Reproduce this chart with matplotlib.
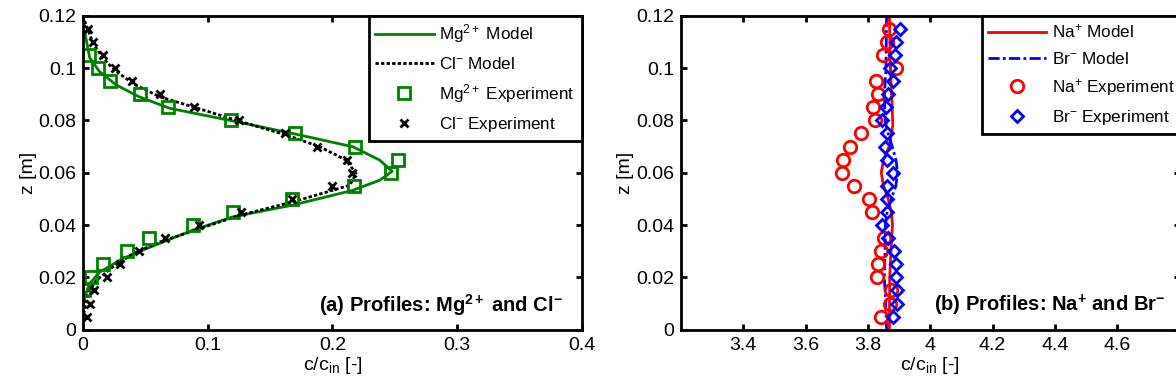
import matplotlib
matplotlib.use("Agg")
import matplotlib.pyplot as plt

plt.rcParams['font.family'] = ['Liberation Sans', 'DejaVu Sans']
plt.rcParams['mathtext.fontset'] = 'custom'
plt.rcParams['mathtext.rm'] = 'Liberation Sans'
plt.rcParams['mathtext.it'] = 'Liberation Sans'
plt.rcParams['mathtext.bf'] = 'Liberation Sans:bold'
plt.rcParams['mathtext.default'] = 'regular'

# ---- (a) Mg2+ / Cl- ----
mg_exp_z = [0.105, 0.10, 0.095, 0.09, 0.085, 0.08, 0.075, 0.07, 0.065, 0.06,
            0.055, 0.05, 0.045, 0.04, 0.035, 0.03, 0.025, 0.02, 0.015]
mg_exp_c = [0.005, 0.012, 0.022, 0.046, 0.068, 0.119, 0.170, 0.218, 0.253, 0.247,
            0.217, 0.168, 0.120, 0.088, 0.053, 0.035, 0.016, 0.006, 0.001]

cl_exp_z = [0.115, 0.11, 0.105, 0.10, 0.095, 0.09, 0.085, 0.08, 0.075, 0.07, 0.065, 0.06,
            0.055, 0.05, 0.045, 0.04, 0.035, 0.03, 0.025, 0.02, 0.015, 0.01, 0.005]
cl_exp_c = [0.004, 0.008, 0.016, 0.026, 0.039, 0.062, 0.089, 0.125, 0.162, 0.188, 0.212, 0.216,
            0.200, 0.168, 0.127, 0.093, 0.066, 0.045, 0.030, 0.019, 0.009, 0.0055, 0.003]

mg_mod_z = [0.114, 0.104, 0.0986, 0.0935, 0.089, 0.0846, 0.080, 0.075, 0.0699, 0.0648,
            0.0605, 0.0571, 0.0532, 0.0476, 0.0431, 0.038, 0.031, 0.0272, 0.022, 0.0176,
            0.0125, 0.008]
mg_mod_c = [0.0013, 0.0053, 0.0133, 0.0267, 0.045, 0.0695, 0.1176, 0.168, 0.2165, 0.238,
            0.248, 0.238, 0.216, 0.168, 0.120, 0.088, 0.051, 0.032, 0.0133, 0.0053,
            0.0013, 0.0]

cl_mod_z = [0.118, 0.1095, 0.1037, 0.0992, 0.0941, 0.089, 0.0852, 0.080, 0.0744, 0.0699,
            0.0648, 0.0597, 0.0552, 0.0533, 0.0488, 0.0437, 0.0386, 0.0335, 0.029, 0.024,
            0.0189, 0.0138, 0.006]
cl_mod_c = [0.0013, 0.008, 0.016, 0.0254, 0.040, 0.0614, 0.088, 0.123, 0.163, 0.190,
            0.211, 0.219, 0.214, 0.2005, 0.168, 0.1256, 0.0935, 0.0615, 0.040, 0.024,
            0.0107, 0.004, 0.0005]

# ---- (b) Na+ / Br- ----
na_exp_z = [0.115, 0.11, 0.105, 0.10, 0.095, 0.09, 0.085, 0.08, 0.075, 0.07, 0.065, 0.06,
            0.055, 0.05, 0.045, 0.035, 0.03, 0.025, 0.02, 0.015, 0.01, 0.005]
na_exp_c = [3.868, 3.862, 3.849, 3.889, 3.825, 3.833, 3.817, 3.822, 3.779, 3.743, 3.719, 3.716,
            3.754, 3.805, 3.812, 3.852, 3.841, 3.832, 3.828, 3.873, 3.870, 3.843]

br_exp_z = [0.115, 0.11, 0.105, 0.10, 0.095, 0.09, 0.085, 0.08, 0.075, 0.07, 0.065, 0.06,
            0.055, 0.05, 0.045, 0.04, 0.035, 0.03, 0.025, 0.02, 0.015, 0.01, 0.005]
br_exp_c = [3.902, 3.891, 3.887, 3.870, 3.879, 3.866, 3.857, 3.844, 3.862, 3.854, 3.862, 3.879,
            3.862, 3.862, 3.862, 3.846, 3.866, 3.884, 3.889, 3.889, 3.895, 3.895, 3.879]

na_mod_z = [0.12, 0.10, 0.085, 0.078, 0.07, 0.065, 0.06, 0.055, 0.05, 0.045, 0.04, 0.035, 0.02, 0.0]
na_mod_c = [3.869, 3.872, 3.878, 3.880, 3.868, 3.850, 3.843, 3.850, 3.865, 3.875, 3.879, 3.876, 3.870, 3.869]

br_mod_z = [0.12, 0.10, 0.09, 0.08, 0.075, 0.07, 0.065, 0.06, 0.055, 0.05, 0.045, 0.04, 0.03, 0.02, 0.01, 0.0]
br_mod_c = [3.860, 3.858, 3.853, 3.855, 3.865, 3.878, 3.890, 3.895, 3.890, 3.875, 3.862, 3.856, 3.855, 3.853, 3.857, 3.860]

green = '#008000'

fig = plt.figure(figsize=(11.76, 3.92), dpi=100)
ax1 = fig.add_axes([0.0706, 0.159, 0.424, 0.801])
ax2 = fig.add_axes([0.579, 0.159, 0.424, 0.801])


def style(ax):
    for s in ax.spines.values():
        s.set_linewidth(2)
    ax.tick_params(direction='in', length=4, width=2, top=True, right=True, labelsize=14, pad=5)
    ax.set_ylim(0, 0.12)
    ax.set_yticks([0, 0.02, 0.04, 0.06, 0.08, 0.1, 0.12])
    ax.set_yticklabels(['0', '0.02', '0.04', '0.06', '0.08', '0.1', '0.12'])
    ax.set_ylabel('z [m]', fontsize=14, labelpad=1)
    ax.set_xlabel('c/c$_{in}$ [-]', fontsize=14, labelpad=1)


ax1.plot(mg_mod_c, mg_mod_z, '-', color=green, lw=2, label='Mg$^{2+}$ Model')
ax1.plot(cl_mod_c, cl_mod_z, ':', color='k', lw=2, dashes=(1.2, 0.8), label='Cl$^{-}$ Model')
ax1.plot(mg_exp_c, mg_exp_z, 's', mfc='none', mec=green, ms=8, mew=2, label='Mg$^{2+}$ Experiment')
ax1.plot(cl_exp_c, cl_exp_z, 'x', color='k', ms=6, mew=2, label='Cl$^{-}$ Experiment')
style(ax1)
ax1.set_xlim(0, 0.4)
ax1.set_xticks([0, 0.1, 0.2, 0.3, 0.4])
ax1.set_xticklabels(['0', '0.1', '0.2', '0.3', '0.4'])
ax1.text(0.963, 0.077, r'(a) Profiles: Mg$\bf{^{2+}}$ and Cl$\bf{^{-}}$', transform=ax1.transAxes,
         ha='right', va='center', fontsize=14.5, fontweight='bold')

ax2.plot(na_mod_c, na_mod_z, '-', color='r', lw=2, label='Na$^{+}$ Model')
ax2.plot(br_mod_c, br_mod_z, '-.', color='b', lw=2, dashes=(4, 1.2, 1, 1.2), label='Br$^{-}$ Model')
ax2.plot(na_exp_c, na_exp_z, 'o', mfc='none', mec='r', ms=9, mew=2, label='Na$^{+}$ Experiment')
ax2.plot(br_exp_c, br_exp_z, 'D', mfc='none', mec='b', ms=6.5, mew=2, label='Br$^{-}$ Experiment')
style(ax2)
ax2.set_xlim(3.2, 4.8)
ax2.set_xticks([3.4, 3.6, 3.8, 4.0, 4.2, 4.4, 4.6])
ax2.set_xticklabels(['3.4', '3.6', '3.8', '4', '4.2', '4.4', '4.6'])
ax2.text(0.972, 0.077, r'(b) Profiles: Na$\bf{^{+}}$ and Br$\bf{^{-}}$', transform=ax2.transAxes,
         ha='right', va='center', fontsize=14.5, fontweight='bold')

leg_kw = dict(fontsize=12.3, fancybox=False, edgecolor='k', framealpha=1, borderaxespad=0,
              handlelength=3.4, handletextpad=0.35, labelspacing=0.6, borderpad=0.4)
leg1 = ax1.legend(loc='upper right', **leg_kw)
leg2 = ax2.legend(loc='upper left', bbox_to_anchor=(0.603, 1.0), **leg_kw)
for leg in (leg1, leg2):
    leg.get_frame().set_linewidth(2)

fig.savefig('out.png', dpi=100)
